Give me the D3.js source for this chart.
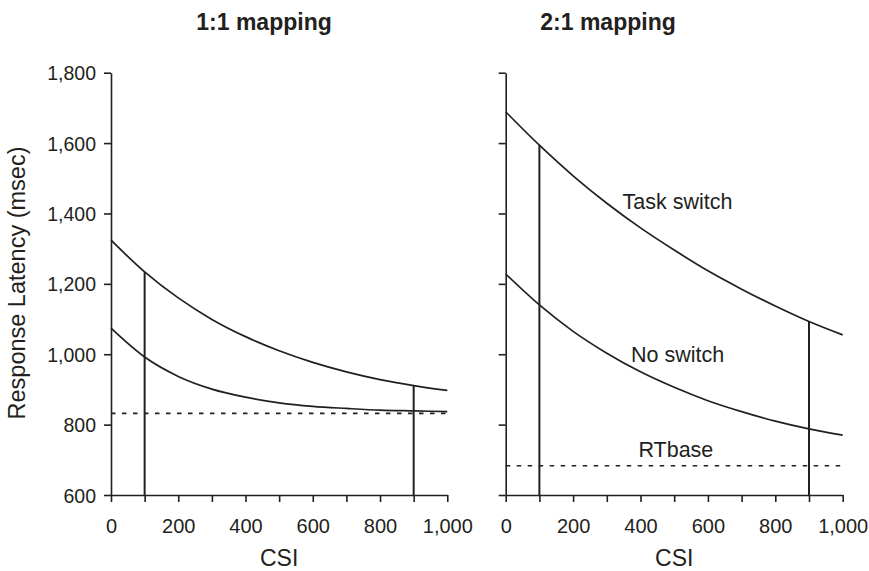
<!DOCTYPE html>
<html>
<head>
<meta charset="utf-8">
<script src="https://cdn.jsdelivr.net/npm/d3@7"></script>
<style>
  html, body { margin: 0; padding: 0; background: #fff; }
  svg { display: block; }
  text { font-family: "Liberation Sans", Arial, Helvetica, sans-serif; fill: #231f20; }
</style>
</head>
<body>
<svg id="chart" width="869" height="571"></svg>
<script>
// ---- data ----
const csi = [0, 100, 200, 300, 400, 500, 600, 700, 800, 900, 1000];
const panelTitles = ["1:1 mapping", "2:1 mapping"];
// 1:1 mapping
const taskSwitch11 = [1324, 1234, 1160, 1099, 1050, 1010, 977, 950, 928, 911, 897];
const noSwitch11   = [1074, 992, 937, 901, 878, 862, 852, 846, 841, 839, 837];
const rtBase11 = 832;
// 2:1 mapping
const taskSwitch21 = [1689, 1594, 1507, 1429, 1359, 1296, 1237, 1185, 1137, 1093, 1055];
const noSwitch21   = [1228, 1140, 1065, 1003, 950, 906, 868, 837, 810, 788, 770];
const rtBase21 = 683;
const dropCSI = [100, 900];
const yTicks = [600, 800, 1000, 1200, 1400, 1600, 1800];
const xTicks = [0, 100, 200, 300, 400, 500, 600, 700, 800, 900, 1000];
const xTickLabels = [0, 200, 400, 600, 800, 1000];
const curveLabels = ["Task switch", "No switch", "RTbase"];
const curveLabelPos = [[510, 1414], [510, 979], [505, 707]]; // data coords (CSI, msec) of label baselines

const svg = d3.select("#chart");
const ink = "#231f20";
const fmt = d3.format(",");

const y = d3.scaleLinear().domain([600, 1800]).range([495, 72.7]);
const panels = [
  { title: panelTitles[0], x: d3.scaleLinear().domain([0, 1000]).range([111, 447.3]),
    ts: taskSwitch11, ns: noSwitch11, base: rtBase11, labels: true, titleX: 264 },
  { title: panelTitles[1], x: d3.scaleLinear().domain([0, 1000]).range([505.7, 842.7]),
    ts: taskSwitch21, ns: noSwitch21, base: rtBase21, labels: false, titleX: 608 }
];

panels.forEach((p, pi) => {
  const g = svg.append("g");
  const x = p.x;

  // y axis
  const yAxis = d3.axisLeft(y).tickValues(yTicks).tickSize(7).tickSizeOuter(0)
    .tickFormat(p.labels ? fmt : () => "");
  const ya = g.append("g").attr("transform", `translate(${x(0)},0)`).call(yAxis);
  ya.selectAll("path, line").attr("stroke", ink).attr("stroke-width", 1.6);
  ya.selectAll("text").attr("font-size", "19.5px").attr("x", -15).attr("dy", "0.36em")
    .style("fill", ink);

  // x axis
  const xAxis = d3.axisBottom(x).tickValues(xTicks).tickSize(7).tickSizeOuter(0)
    .tickFormat(d => xTickLabels.includes(d) ? fmt(d) : "");
  const xa = g.append("g").attr("transform", `translate(0,${y(600)})`).call(xAxis);
  xa.selectAll("path, line").attr("stroke", ink).attr("stroke-width", 1.6);
  xa.selectAll("text").attr("font-size", "20px").attr("y", 24).attr("dy", "0.71em")
    .style("fill", ink);

  // RT base dashed
  g.append("line")
    .attr("x1", x(0)).attr("x2", x(1000))
    .attr("y1", y(p.base)).attr("y2", y(p.base))
    .attr("stroke", ink).attr("stroke-width", 1.6)
    .attr("stroke-dasharray", "4.5,6.5");

  // curves
  const line = d3.line().x((d, i) => x(csi[i])).y(d => y(d)).curve(d3.curveMonotoneX);
  [p.ts, p.ns].forEach(series => {
    g.append("path").datum(series).attr("d", line)
      .attr("fill", "none").attr("stroke", ink).attr("stroke-width", 1.7);
  });

  // drop lines
  dropCSI.forEach(c => {
    const i = csi.indexOf(c);
    g.append("line")
      .attr("x1", x(c)).attr("x2", x(c))
      .attr("y1", y(600)).attr("y2", y(p.ts[i]))
      .attr("stroke", ink).attr("stroke-width", 2);
  });

  // panel title
  svg.append("text").attr("x", p.titleX).attr("y", 30)
    .attr("text-anchor", "middle").attr("font-size", "23px").attr("font-weight", "bold")
    .text(p.title);

  // x axis title
  svg.append("text").attr("x", (x(0) + x(1000)) / 2).attr("y", 566)
    .attr("text-anchor", "middle").attr("font-size", "23px").text("CSI");

  // curve labels (right panel only)
  if (pi === 1) {
    curveLabels.forEach((t, k) => {
      svg.append("text")
        .attr("x", x(curveLabelPos[k][0])).attr("y", y(curveLabelPos[k][1]))
        .attr("text-anchor", "middle").attr("font-size", "21.5px").text(t);
    });
  }
});

// y axis title
svg.append("text")
  .attr("transform", "translate(25,283) rotate(-90)")
  .attr("text-anchor", "middle").attr("font-size", "23.5px")
  .text("Response Latency (msec)");
</script>
</body>
</html>
